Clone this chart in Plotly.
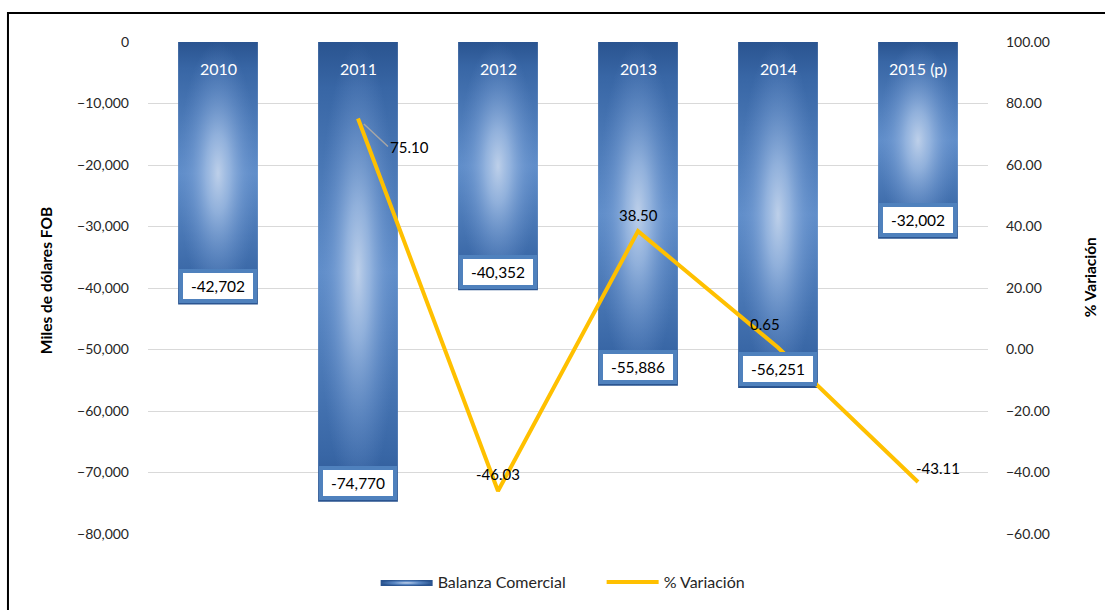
import plotly.graph_objects as go

# Balanza comercial (miles de dólares FOB) y su variación porcentual anual
years = ["2010", "2011", "2012", "2013", "2014", "2015 (p)"]
balanza = [-42702, -74770, -40352, -55886, -56251, -32002]
variacion = [None, 75.10, -46.03, 38.50, 0.65, -43.11]

left_ticks = [0, -10000, -20000, -30000, -40000, -50000, -60000, -70000, -80000]
right_ticks = [100, 80, 60, 40, 20, 0, -20, -40, -60]

FONT = "Lato"
BAR_W = 0.57
# dark ends, mid-blue body
base_scale = [[0, "#2a5490"], [0.1, "#3866a5"], [0.5, "#608eca"], [0.9, "#3866a5"], [1, "#2a5490"]]
# soft light spot in the middle of each bar
glow_scale = [[0, "rgba(194,211,235,0.95)"], [0.3, "rgba(165,192,229,0.75)"],
              [0.65, "rgba(125,162,214,0.4)"], [1, "rgba(100,140,200,0)"]]
legend_scale = [[0, "#c5d5ec"], [0.5, "#5b88c4"], [1, "#2a5490"]]

fig = go.Figure()

# legend entry for the bar series
fig.add_trace(go.Scatter(
    x=[None], y=[None], mode="lines", fill="toself", line=dict(width=0),
    fillgradient=dict(type="radial", colorscale=legend_scale),
    name="Balanza Comercial", legendgroup="bal", hoverinfo="skip",
))

# Bars drawn as filled shapes: vertical base gradient plus a radial glow
for i, v in enumerate(balanza):
    x0, x1 = i - BAR_W / 2, i + BAR_W / 2
    px, py = [x0, x1, x1, x0, x0], [0, 0, v, v, 0]
    fig.add_trace(go.Scatter(
        x=px, y=py, mode="lines", fill="toself", line=dict(width=0),
        fillgradient=dict(type="vertical", colorscale=base_scale),
        legendgroup="bal", showlegend=False, hoverinfo="skip",
    ))
    fig.add_trace(go.Scatter(
        x=px, y=py, mode="lines", fill="toself", line=dict(width=0),
        fillgradient=dict(type="radial", colorscale=glow_scale),
        legendgroup="bal", showlegend=False, hoverinfo="skip",
    ))

xs = [i for i, v in enumerate(variacion) if v is not None]
ys = [v for v in variacion if v is not None]
fig.add_trace(go.Scatter(
    x=xs, y=ys, yaxis="y2", mode="lines", name="% Variación",
    line=dict(color="#ffc000", width=4),
))

ann = []
# Year labels inside the top of each bar
for i, yr in enumerate(years):
    ann.append(dict(x=i, y=0, xref="x", yref="y", text=yr, showarrow=False,
                    yanchor="top", yshift=-15, font=dict(color="white", size=16, family=FONT)))
# Value boxes at the end of each bar
for i, v in enumerate(balanza):
    ann.append(dict(x=i, y=v, xref="x", yref="y", text=f"{v:,}", showarrow=False,
                    yanchor="middle", yshift=18.5, bgcolor="white", bordercolor="#4f81bd",
                    borderwidth=4, borderpad=4, width=62,
                    font=dict(color="black", size=15.5, family=FONT)))
# Line labels
offsets = {1: (30, 28), 2: (0, -17), 3: (0, -16), 4: (-13, -24), 5: (20, -14)}
for i, v in enumerate(variacion):
    if v is None:
        continue
    dx, dy = offsets[i]
    a = dict(x=i, y=v, xref="x", yref="y2", text=f"{v:.2f}",
             font=dict(color="black", size=15, family=FONT))
    if i == 1:
        a.update(showarrow=True, arrowhead=0, arrowwidth=1.5, arrowcolor="#a6a6a6",
                 ax=dx, ay=dy, xanchor="left", standoff=8)
    else:
        a.update(showarrow=False, xshift=dx, yshift=-dy)
    ann.append(a)

# Axis titles
ann.append(dict(x=-0.1214, y=0.514, xref="paper", yref="paper", text="<b>Miles de dólares FOB</b>",
                textangle=-90, showarrow=False, xanchor="center", yanchor="middle",
                font=dict(size=15.5, color="black", family=FONT)))
ann.append(dict(x=1.1214, y=0.522, xref="paper", yref="paper", text="<b>% Variación</b>",
                textangle=-90, showarrow=False, xanchor="center", yanchor="middle",
                font=dict(size=15.5, color="black", family=FONT)))

fig.update_layout(
    width=1105, height=610,
    margin=dict(l=148, r=117, t=42, b=76, autoexpand=False),
    paper_bgcolor="white", plot_bgcolor="white",
    font=dict(family=FONT, size=14, color="#262626"),
    xaxis=dict(range=[-0.5, 5.5], showticklabels=False, showgrid=False,
               zeroline=False, showline=False, ticks=""),
    yaxis=dict(range=[-80000, 0], tickvals=left_ticks, tickformat=",",
               gridcolor="#d9d9d9", gridwidth=1, zeroline=False, showline=False,
               ticks="", ticklabelstandoff=18),
    yaxis2=dict(range=[-60, 100], tickvals=right_ticks, tickformat=".2f",
                overlaying="y", side="right", showgrid=False, zeroline=False,
                showline=False, ticks="", ticklabelstandoff=17),
    legend=dict(orientation="h", x=0.271, xanchor="left", y=-0.063, yanchor="top",
                font=dict(size=16, color="#262626"), entrywidth=159, itemwidth=52),
    annotations=ann,
    shapes=[dict(type="rect", xref="paper", yref="paper",
                 x0=-0.1667, x1=1.2, y0=-0.2, y1=1.059,
                 line=dict(color="black", width=2), layer="above")],
    showlegend=True,
)

fig.write_html("out.html")
